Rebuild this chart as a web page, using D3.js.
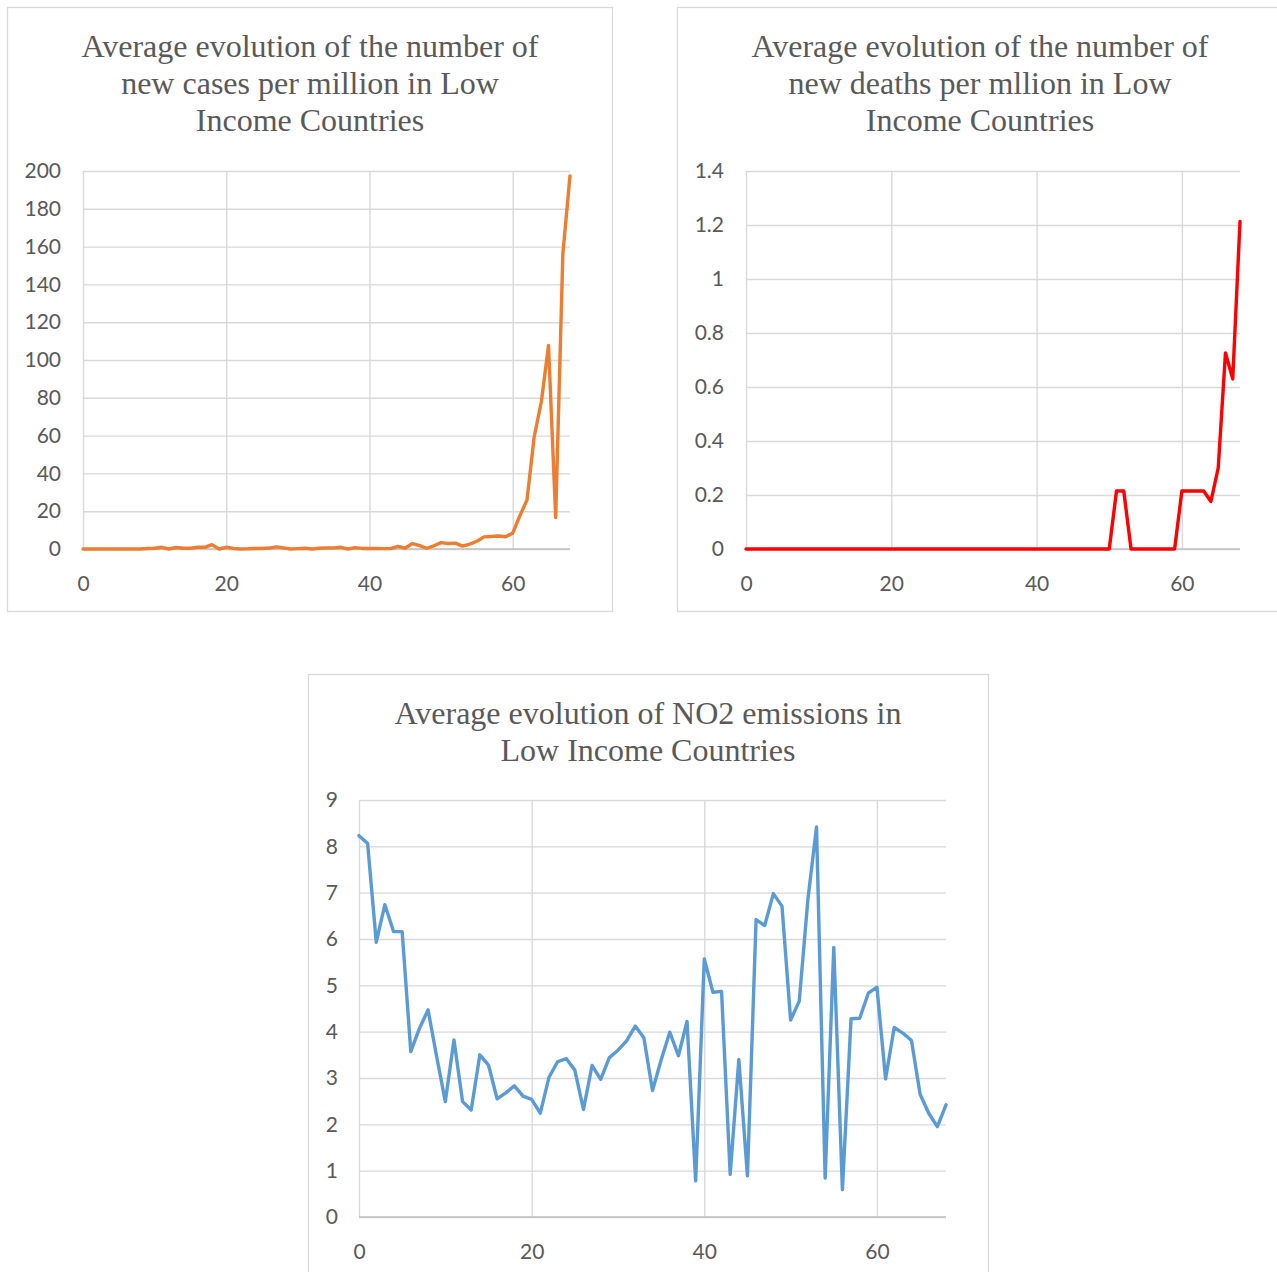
<!DOCTYPE html>
<html>
<head>
<meta charset="utf-8">
<script src="https://cdn.jsdelivr.net/npm/d3@7"></script>
<style>
  body { margin: 0; background: #fff; }
  svg { display: block; }
</style>
</head>
<body>
<div id="chart"></div>
<script>
// x ticks shared by all three charts (day index 0..68)
var xTicks = [0, 20, 40, 60];

// new cases per million, low income countries
var casesValues = [0, 0, 0, 0, 0, 0, 0, 0, 0, 0.3,
  0.4, 0.9, 0, 0.8, 0.4, 0.4, 0.9, 0.9, 2.3, 0,
  0.9, 0.3, 0, 0.1, 0.3, 0.3, 0.5, 1.1, 0.6, 0,
  0.2, 0.4, 0, 0.4, 0.6, 0.6, 0.9, 0, 0.7, 0.3,
  0.3, 0.3, 0.2, 0.3, 1.4, 0.5, 2.9, 1.8, 0.4, 1.7,
  3.4, 2.9, 3.1, 1.5, 2.6, 4.1, 6.4, 6.6, 6.9, 6.5,
  8.4, 17.6, 26, 59.4, 77.9, 107.7, 16.7, 156, 197.4];
var casesYTicks = [0, 20, 40, 60, 80, 100, 120, 140, 160, 180, 200];
var casesYLabels = ["0", "20", "40", "60", "80", "100", "120", "140", "160", "180", "200"];

// new deaths per million
var deathsValues = [0, 0, 0, 0, 0, 0, 0, 0, 0, 0,
  0, 0, 0, 0, 0, 0, 0, 0, 0, 0,
  0, 0, 0, 0, 0, 0, 0, 0, 0, 0,
  0, 0, 0, 0, 0, 0, 0, 0, 0, 0,
  0, 0, 0, 0, 0, 0, 0, 0, 0, 0,
  0, 0.215, 0.215, 0, 0, 0, 0, 0, 0, 0,
  0.215, 0.215, 0.215, 0.215, 0.176, 0.30, 0.726, 0.63, 1.213];
var deathsYTicks = [0, 0.2, 0.4, 0.6, 0.8, 1, 1.2, 1.4];
var deathsYLabels = ["0", "0.2", "0.4", "0.6", "0.8", "1", "1.2", "1.4"];

// NO2 emissions
var no2Values = [8.23, 8.06, 5.93, 6.74, 6.16, 6.16, 3.57, 4.07, 4.47, 3.46,
  2.49, 3.82, 2.49, 2.31, 3.50, 3.28, 2.55, 2.68, 2.83, 2.61,
  2.54, 2.24, 3.01, 3.35, 3.42, 3.17, 2.32, 3.27, 2.97, 3.44,
  3.60, 3.80, 4.12, 3.87, 2.73, 3.39, 3.99, 3.48, 4.22, 0.78,
  5.57, 4.85, 4.87, 0.92, 3.40, 0.89, 6.42, 6.29, 6.98, 6.71,
  4.25, 4.66, 6.85, 8.42, 0.84, 5.82, 0.59, 4.28, 4.29, 4.83,
  4.96, 2.98, 4.09, 3.97, 3.81, 2.65, 2.24, 1.95, 2.42];
var no2YTicks = [0, 1, 2, 3, 4, 5, 6, 7, 8, 9];
var no2YLabels = ["0", "1", "2", "3", "4", "5", "6", "7", "8", "9"];

var svg = d3.select("#chart").append("svg")
    .attr("width", 1277)
    .attr("height", 1272);

function drawChart(cfg) {
  var g = svg.append("g");

  // outer frame
  g.append("rect")
    .attr("x", cfg.box[0] + 0.5)
    .attr("y", cfg.box[1] + 0.5)
    .attr("width", cfg.box[2] - cfg.box[0])
    .attr("height", cfg.box[3] - cfg.box[1])
    .attr("fill", "#fff")
    .attr("stroke", "#d9d9d9")
    .attr("stroke-width", 1.3);

  var x = d3.scaleLinear().domain([0, 68]).range([cfg.left, cfg.right]);
  var y = d3.scaleLinear().domain([0, cfg.yMax]).range([cfg.bottom, cfg.top]);

  // y axis with horizontal gridlines
  var yAxis = d3.axisLeft(y)
    .tickValues(cfg.yTicks)
    .tickSize(-(cfg.right - cfg.left))
    .tickPadding(cfg.yPad)
    .tickFormat(function(d, i) { return cfg.yLabels[i]; });
  var ya = g.append("g")
    .attr("transform", "translate(" + cfg.left + ",0)")
    .call(yAxis);

  // x axis with vertical gridlines
  var xAxis = d3.axisBottom(x)
    .tickValues(xTicks)
    .tickSize(-(cfg.bottom - cfg.top))
    .tickPadding(27)
    .tickFormat(d3.format("d"));
  var xa = g.append("g")
    .attr("transform", "translate(0," + cfg.bottom + ")")
    .call(xAxis);

  [ya, xa].forEach(function(a) {
    a.select(".domain").remove();
    a.selectAll(".tick line").attr("stroke", "#d9d9d9").attr("stroke-width", 1.4);
    a.selectAll(".tick text")
      .attr("fill", "#595959")
      .style("font-family", "Lato, 'Open Sans', sans-serif")
      .style("font-size", "21px");
  });

  // baseline
  g.append("line")
    .attr("x1", cfg.left).attr("x2", cfg.right)
    .attr("y1", y(0)).attr("y2", y(0))
    .attr("stroke", "#bfbfbf")
    .attr("stroke-width", 1.6);

  // series
  var line = d3.line()
    .x(function(d, i) { return x(i); })
    .y(function(d) { return y(d); });
  g.append("path")
    .datum(cfg.values)
    .attr("d", line)
    .attr("fill", "none")
    .attr("stroke", cfg.color)
    .attr("stroke-width", 3.4)
    .attr("stroke-linejoin", "round")
    .attr("stroke-linecap", "round");

  // title
  var title = g.append("text")
    .attr("text-anchor", "middle")
    .attr("fill", "#595959")
    .style("font-family", "'Liberation Serif', 'Times New Roman', serif")
    .style("font-size", "32px");
  cfg.title.forEach(function(t, i) {
    title.append("tspan")
      .attr("x", cfg.titleX)
      .attr("y", cfg.titleY + i * 37)
      .text(t);
  });
}

drawChart({
  box: [7, 7, 612, 611],
  left: 83, right: 570, top: 171, bottom: 549,
  yMax: 200, yTicks: casesYTicks, yLabels: casesYLabels, yPad: 22,
  values: casesValues, color: "#ED7D31",
  title: ["Average evolution of the number of", "new cases per million in Low", "Income Countries"],
  titleX: 310, titleY: 57
});

drawChart({
  box: [677, 7, 1290, 611],
  left: 746, right: 1240, top: 171, bottom: 549,
  yMax: 1.4, yTicks: deathsYTicks, yLabels: deathsYLabels, yPad: 22,
  values: deathsValues, color: "#FF0000",
  title: ["Average evolution of the number of", "new deaths per mllion in Low", "Income Countries"],
  titleX: 980, titleY: 57
});

drawChart({
  box: [308, 674, 988, 1300],
  left: 359, right: 946, top: 800, bottom: 1217,
  yMax: 9, yTicks: no2YTicks, yLabels: no2YLabels, yPad: 21,
  values: no2Values, color: "#5B9BD5",
  title: ["Average evolution of NO2 emissions in", "Low Income Countries"],
  titleX: 648, titleY: 724
});
</script>
</body>
</html>
